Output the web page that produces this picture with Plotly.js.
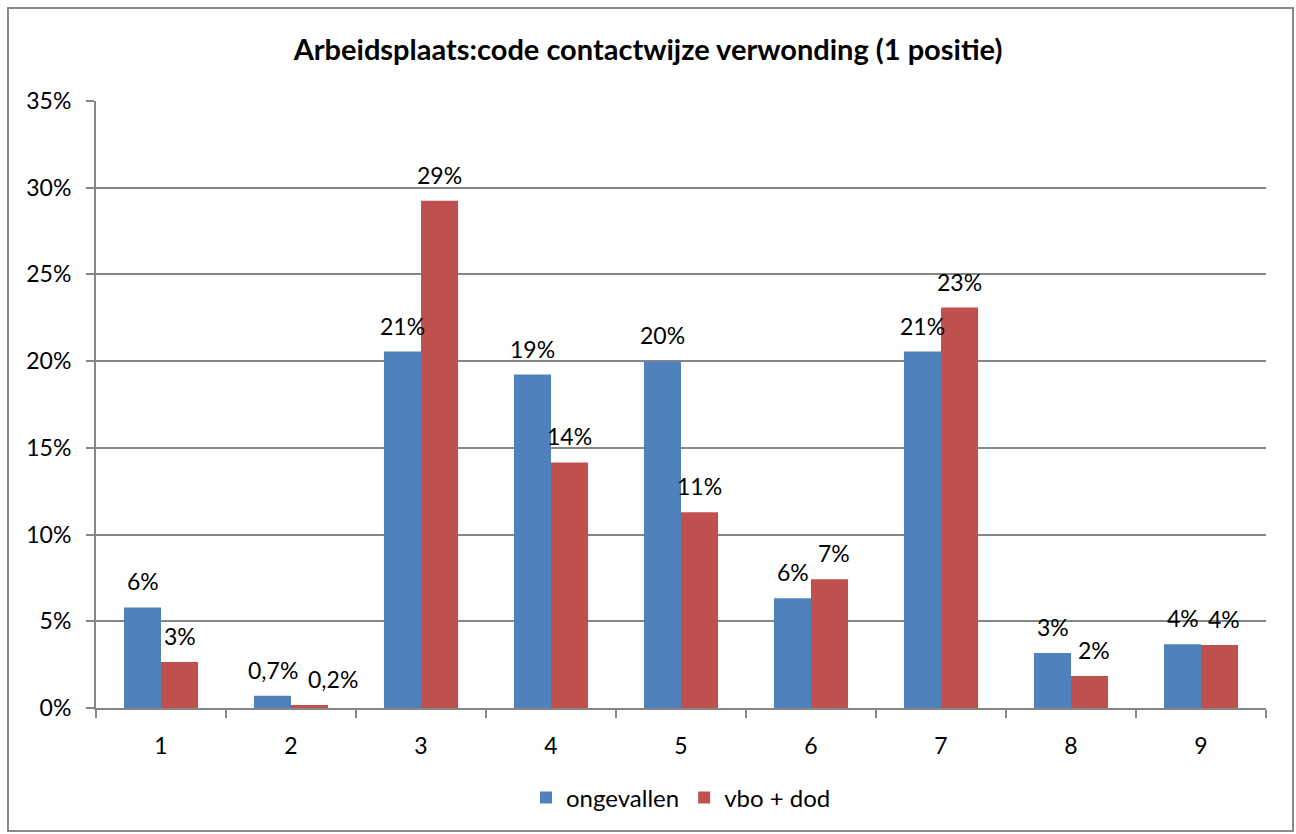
<!DOCTYPE html>
<html>
<head>
<meta charset="utf-8">
<script src="https://cdn.plot.ly/plotly-3.0.1.min.js"></script>
<style>
  html, body { margin: 0; padding: 0; background: #fff; }
  #chart { width: 1296px; height: 834px; }
  #frame { position: absolute; left: 7px; top: 7px; width: 1283px; height: 821px;
           border: 2px solid #8a8a8a; pointer-events: none; }
</style>
</head>
<body>
<div id="chart"></div>
<div id="frame"></div>
<script>
const categories = ["1", "2", "3", "4", "5", "6", "7", "8", "9"];
const ongevallen = [0.058, 0.007, 0.2055, 0.1923, 0.1998, 0.0633, 0.2055, 0.0317, 0.0368];
const vboDod = [0.0265, 0.0017, 0.2925, 0.1416, 0.1128, 0.0743, 0.2309, 0.0184, 0.0363];
const labelsOngevallen = ["6%", "0,7%", "21%", "19%", "20%", "6%", "21%", "3%", "4%"];
const labelsVboDod = ["3%", "0,2%", "29%", "14%", "11%", "7%", "23%", "2%", "4%"];
const seriesNames = ["ongevallen", "vbo + dod"];
const yTickVals = [0, 0.05, 0.10, 0.15, 0.20, 0.25, 0.30, 0.35];
const yTickText = ["0%", "5%", "10%", "15%", "20%", "25%", "30%", "35%"];

const FONT = "Lato, 'Noto Sans', sans-serif";
const blue = "#4F81BD", red = "#C0504D";
const LABEL_SIZE = 23;
const PX_PER_UNIT = 607 / 0.35;   // plot height / y range

const ctx = document.createElement("canvas").getContext("2d");
ctx.font = LABEL_SIZE + "px Lato";
const textW = s => ctx.measureText(s).width;

const traces = [
  { type: "bar", name: seriesNames[0], x: categories, y: ongevallen,
    marker: { color: blue }, hoverinfo: "skip" },
  { type: "bar", name: seriesNames[1], x: categories, y: vboDod,
    marker: { color: red }, hoverinfo: "skip" }
];

const annotations = [];
categories.forEach((c, i) => {
  // push labels apart when the two bars have similar heights
  let redShift = 18.5;
  const dy = Math.abs(ongevallen[i] - vboDod[i]) * PX_PER_UNIT;
  const need = (textW(labelsOngevallen[i]) + textW(labelsVboDod[i])) / 2 + 10;
  if (dy < 26 && need > 37) redShift = 18.5 + (need - 37);
  annotations.push({ x: i, y: ongevallen[i], xref: "x", yref: "y", text: labelsOngevallen[i],
    showarrow: false, xshift: -18.5, yshift: 10, yanchor: "bottom",
    font: { family: FONT, size: LABEL_SIZE, color: "#000" } });
  annotations.push({ x: i, y: vboDod[i], xref: "x", yref: "y", text: labelsVboDod[i],
    showarrow: false, xshift: redShift, yshift: 10, yanchor: "bottom",
    font: { family: FONT, size: LABEL_SIZE, color: "#000" } });
});

const layout = {
  width: 1296, height: 834,
  margin: { l: 96, r: 30, t: 101, b: 126 },
  paper_bgcolor: "#fff", plot_bgcolor: "#fff",
  title: { text: "<b>Arbeidsplaats:code contactwijze verwonding (1 positie)</b>",
    font: { family: FONT, size: 29, color: "#000" }, x: 0.5, xanchor: "center", y: 0.94, yanchor: "middle" },
  barmode: "group", bargap: 0.43, bargroupgap: 0,
  xaxis: { type: "category", showline: true, linecolor: "#868686", linewidth: 2,
    ticks: "outside", tickson: "boundaries", ticklen: 8, tickcolor: "#868686", tickwidth: 2,
    ticklabelstandoff: 16,
    tickfont: { family: FONT, size: 23, color: "#000" }, showgrid: false, fixedrange: true,
    automargin: false },
  yaxis: { range: [0, 0.35], tickvals: yTickVals, ticktext: yTickText,
    showline: true, linecolor: "#868686", linewidth: 2,
    ticks: "outside", ticklen: 8, tickcolor: "#868686", tickwidth: 2,
    ticklabelstandoff: 10,
    showgrid: true, gridcolor: "#868686", gridwidth: 2, zeroline: false,
    tickfont: { family: FONT, size: 23, color: "#000" }, fixedrange: true, automargin: false },
  legend: { orientation: "h", x: 0.5, xanchor: "center", y: -0.148, yanchor: "middle",
    font: { family: FONT, size: 24, color: "#000" }, traceorder: "normal" },
  annotations: annotations,
  showlegend: true
};

Plotly.newPlot("chart", traces, layout, { displayModeBar: false, staticPlot: true });
</script>
</body>
</html>
